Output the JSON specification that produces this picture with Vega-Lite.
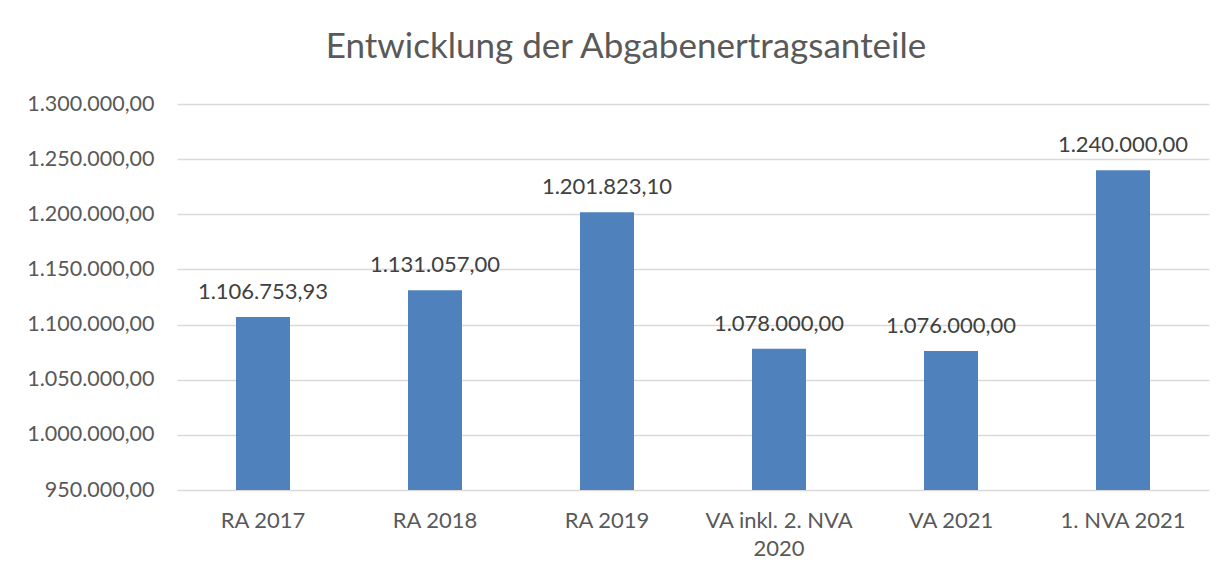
{
  "$schema": "https://vega.github.io/schema/vega-lite/v6.json",
  "autosize": {"type": "none"},
  "padding": {"left": 177, "top": 104, "right": 11, "bottom": 87},
  "width": 1032,
  "height": 386,
  "background": "white",
  "config": {
    "locale": {"number": {"decimal": ",", "thousands": ".", "grouping": [3], "currency": ["", " €"]}},
    "font": "Lato",
    "view": {"stroke": null}
  },
  "title": {
    "text": "Entwicklung der Abgabenertragsanteile",
    "font": "Lato",
    "fontSize": 35,
    "fontWeight": "normal",
    "color": "#595959",
    "frame": "group",
    "anchor": "middle",
    "baseline": "alphabetic",
    "offset": 0,
    "dx": -67
  },
  "data": {
    "values": [
      {"kategorie": "RA 2017", "wert": 1106753.93},
      {"kategorie": "RA 2018", "wert": 1131057.00},
      {"kategorie": "RA 2019", "wert": 1201823.10},
      {"kategorie": "VA inkl. 2. NVA 2020", "wert": 1078000.00},
      {"kategorie": "VA 2021", "wert": 1076000.00},
      {"kategorie": "1. NVA 2021", "wert": 1240000.00}
    ]
  },
  "encoding": {
    "x": {
      "field": "kategorie",
      "type": "nominal",
      "sort": null,
      "scale": {"paddingInner": 0.686, "paddingOuter": 0.343},
      "axis": {
        "title": null,
        "labelAngle": 0,
        "ticks": false,
        "domain": false,
        "labelFont": "Lato",
        "labelFontSize": 22,
        "labelColor": "#595959",
        "labelPadding": 20,
        "labelLineHeight": 28,
        "labelExpr": "datum.label == 'VA inkl. 2. NVA 2020' ? ['VA inkl. 2. NVA', '2020'] : datum.label"
      }
    }
  },
  "layer": [
    {
      "mark": {"type": "bar", "color": "#4f81bd"},
      "encoding": {
        "y": {
          "field": "wert",
          "type": "quantitative",
          "scale": {"domain": [950000, 1300000], "zero": false, "nice": false},
          "axis": {
            "title": null,
            "values": [950000, 1000000, 1050000, 1100000, 1150000, 1200000, 1250000, 1300000],
            "format": ",.2f",
            "ticks": false,
            "domain": false,
            "grid": true,
            "gridColor": "#d9d9d9",
            "gridWidth": 1.5,
            "labelFont": "Lato",
            "labelFontSize": 21.5,
            "labelColor": "#595959",
            "labelPadding": 23
          }
        },
        "y2": {"datum": 950000}
      }
    },
    {
      "mark": {"type": "text", "font": "Lato", "fontSize": 22, "color": "#404040", "baseline": "alphabetic", "dy": -18},
      "encoding": {
        "y": {"field": "wert", "type": "quantitative"},
        "text": {"field": "wert", "type": "quantitative", "format": ",.2f"}
      }
    }
  ]
}
